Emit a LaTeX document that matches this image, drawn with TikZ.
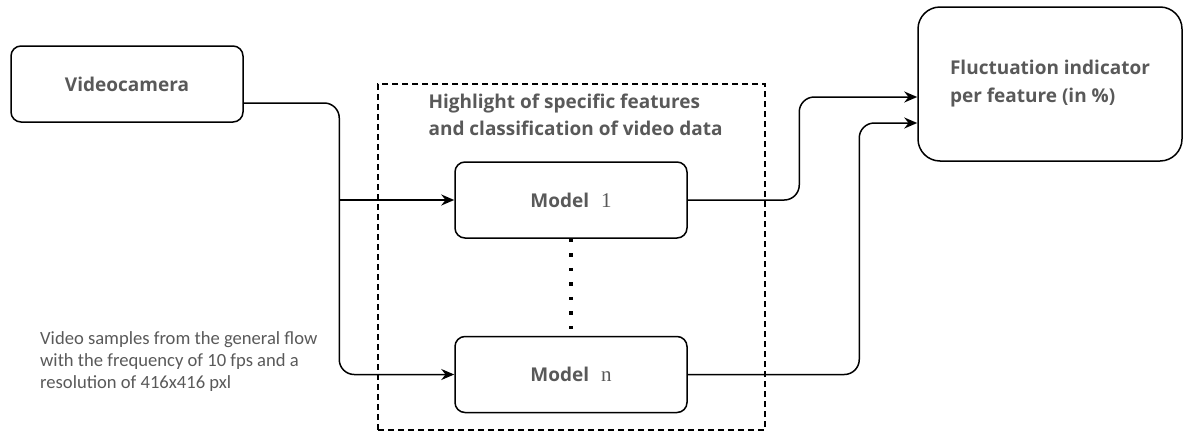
\documentclass[tikz,border=0pt]{standalone}
\usepackage{fontspec}
\setmainfont{Open Sans}
\newfontfamily\notefont{Carlito}
\newfontfamily\numfont{Liberation Serif}
\usetikzlibrary{arrows.meta,positioning}

\definecolor{labelgray}{RGB}{89,89,89}

\tikzset{
    unit/.style={draw, line width=1.5pt, rounded corners=10pt, minimum width=232pt,
        minimum height=76pt, inner sep=0pt, text=labelgray,
        font=\bfseries\fontsize{19}{24}\selectfont},
    outbox/.style={unit, rounded corners=22pt, minimum width=264pt, minimum height=154pt,
        align=left, font=\bfseries\fontsize{19}{28}\selectfont},
    group/.style={draw, line width=1.3pt, dash pattern=on 6pt off 4pt,
        minimum width=387pt, minimum height=346pt},
    link/.style={line width=1.5pt, rounded corners=15pt},
    tip/.style={-{Stealth[length=13pt,width=11pt]}},
}

\newcommand{\modelname}[1]{Model\hspace{12pt}{\numfont\mdseries\fontsize{21}{24}\selectfont #1}}

\begin{document}
\begin{tikzpicture}[x=1pt,y=-1pt]
    \useasboundingbox (0,0) rectangle (1183,434);

    % source and result
    \node[unit] (cam) at (127,84) {Videocamera};
    \node[outbox] (out) at (1050,84) {Fluctuation indicator\\per feature (in \%)};

    % block of models
    \node[group] (grp) at (571.5,257) {};
    \node[below right=10pt and 51pt of grp.north west, anchor=north west, inner sep=0pt,
        align=left, text=labelgray, font=\bfseries\fontsize{19}{27}\selectfont] (ttl)
        {Highlight of specific features\\and classification of video data};
    \node[unit] (m1) at (571,200) {\modelname{1}};
    \node[unit, below=97pt of m1] (mn) {\modelname{n}};
    \draw[line width=3.5pt, dash pattern=on 3.5pt off 11pt] (m1) -- (mn);

    % note on the sampling
    \node[anchor=north west, inner sep=0pt, align=left, text=labelgray,
        font=\notefont\fontsize{18.6}{22}\selectfont] (note) at (40,331)
        {Video samples from the general flow\\with the frequency of 10 fps and a\\resolution of 416x416 pxl};

    % connectors
    \coordinate[left=115pt of m1.west] (split);
    \draw[link,tip] ([yshift=-19pt]cam.east) -| (split) |- (mn);
    \draw[link,tip] (split) -- (m1);
    \draw[link,tip] (m1) -| ([xshift=-118pt,yshift=-13pt]out.west) -- ([yshift=-13pt]out.west);
    \draw[link,tip] (mn) -| ([xshift=-58pt,yshift=-39pt]out.west) -- ([yshift=-39pt]out.west);
\end{tikzpicture}
\end{document}
